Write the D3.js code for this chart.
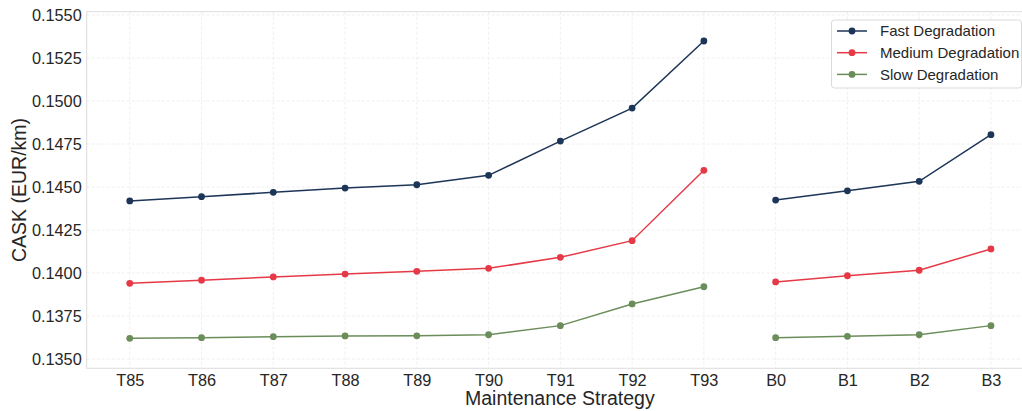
<!DOCTYPE html>
<html>
<head>
<meta charset="utf-8">
<script src="https://cdn.jsdelivr.net/npm/d3@7"></script>
<style>
  html, body { margin: 0; padding: 0; background: #ffffff; }
  svg { display: block; font-family: "Liberation Sans", Arial, sans-serif; }
</style>
</head>
<body>
<svg id="chart" width="1022" height="411"></svg>
<script>
// ---- data ----
const categories = ["T85", "T86", "T87", "T88", "T89", "T90", "T91", "T92", "T93", "B0", "B1", "B2", "B3"];
const groups = ["T", "T", "T", "T", "T", "T", "T", "T", "T", "B", "B", "B", "B"];
const fastValues   = [0.14419, 0.14444, 0.14469, 0.14494, 0.14513, 0.14568, 0.14767, 0.14959, 0.15349, 0.14424, 0.14478, 0.14533, 0.14804];
const mediumValues = [0.13940, 0.13958, 0.13977, 0.13994, 0.14010, 0.14027, 0.14091, 0.14188, 0.14597, 0.13948, 0.13984, 0.14016, 0.14140];
const slowValues   = [0.13620, 0.13624, 0.13630, 0.13634, 0.13635, 0.13641, 0.13694, 0.13820, 0.13920, 0.13624, 0.13632, 0.13641, 0.13694];
const seriesNames  = ["Fast Degradation", "Medium Degradation", "Slow Degradation"];
const seriesColors = ["#1d3557", "#e63946", "#6a8d5a"];
const yTickValues  = [0.1350, 0.1375, 0.1400, 0.1425, 0.1450, 0.1475, 0.1500, 0.1525, 0.1550];
const xTitle = "Maintenance Strategy";
const yTitle = "CASK (EUR/km)";

const series = [fastValues, mediumValues, slowValues].map((vals, i) => ({
  name: seriesNames[i], color: seriesColors[i],
  points: vals.map((v, j) => ({ cat: categories[j], idx: j, group: groups[j], value: v }))
}));

// ---- layout ----
const svg = d3.select("#chart");
const plot = { left: 86.7, right: 1034, top: 11.7, bottom: 368.3 };

const x = d3.scaleLinear().domain([-0.6, categories.length - 1 + 0.6]).range([plot.left, plot.right]);
const y = d3.scaleLinear().domain([0.134459, 0.155193]).range([plot.bottom, plot.top]);

const textColor = "#262626";

// grid
const grid = svg.append("g");
grid.selectAll("line.h").data(yTickValues).join("line")
  .attr("x1", plot.left).attr("x2", plot.right)
  .attr("y1", d => y(d)).attr("y2", d => y(d))
  .attr("stroke", "#ebebeb").attr("stroke-width", 0.8).attr("stroke-dasharray", "3,2");
grid.selectAll("line.v").data(categories).join("line")
  .attr("x1", (d, i) => x(i)).attr("x2", (d, i) => x(i))
  .attr("y1", plot.top).attr("y2", plot.bottom)
  .attr("stroke", "#ebebeb").attr("stroke-width", 0.8).attr("stroke-dasharray", "3,2");

// frame
svg.append("rect")
  .attr("x", plot.left).attr("y", plot.top)
  .attr("width", plot.right - plot.left).attr("height", plot.bottom - plot.top)
  .attr("fill", "none").attr("stroke", "#dcdcdc").attr("stroke-width", 1);

// axes
const yAxis = d3.axisLeft(y).tickValues(yTickValues).tickFormat(d3.format(".4f")).tickSize(0).tickPadding(5);
const gy = svg.append("g").attr("transform", `translate(${plot.left},0)`).call(yAxis);
gy.select(".domain").remove();
gy.selectAll("text").attr("fill", textColor).style("font-size", "16.3px");

const xAxis = d3.axisBottom(x).tickValues(d3.range(categories.length)).tickFormat(i => categories[i]).tickSize(0).tickPadding(6);
const gx = svg.append("g").attr("transform", `translate(0,${plot.bottom})`).call(xAxis);
gx.select(".domain").remove();
gx.selectAll("text").attr("fill", textColor).style("font-size", "16.3px");

// titles
svg.append("text")
  .attr("x", (plot.left + plot.right) / 2 - 0.5).attr("y", 405)
  .attr("text-anchor", "middle").attr("fill", textColor)
  .style("font-size", "19.5px").text(xTitle);
svg.append("text")
  .attr("transform", `translate(26,190) rotate(-90)`)
  .attr("text-anchor", "middle").attr("fill", textColor)
  .style("font-size", "19.5px").text(yTitle);

// lines (separate segments per group)
const line = d3.line().x(d => x(d.idx)).y(d => y(d.value));
const lines = svg.append("g");
series.forEach(s => {
  ["T", "B"].forEach(g => {
    const pts = s.points.filter(p => p.group === g);
    lines.append("path").datum(pts)
      .attr("d", line).attr("fill", "none")
      .attr("stroke", s.color).attr("stroke-width", 1.5);
  });
  lines.selectAll(null).data(s.points).join("circle")
    .attr("cx", d => x(d.idx)).attr("cy", d => y(d.value))
    .attr("r", 3.4).attr("fill", s.color);
});

// legend
const lg = svg.append("g");
lg.append("rect")
  .attr("x", 831.5).attr("y", 20).attr("width", 190).attr("height", 68)
  .attr("rx", 3).attr("fill", "#ffffff").attr("fill-opacity", 0.85)
  .attr("stroke", "#d0d0d0").attr("stroke-width", 0.8);
series.forEach((s, i) => {
  const yy = 31 + i * 21.7;
  lg.append("line").attr("x1", 837).attr("x2", 867).attr("y1", yy).attr("y2", yy)
    .attr("stroke", s.color).attr("stroke-width", 1.5);
  lg.append("circle").attr("cx", 852).attr("cy", yy).attr("r", 3.4).attr("fill", s.color);
  lg.append("text").attr("x", 880).attr("y", yy).attr("dy", "0.35em")
    .attr("fill", textColor).style("font-size", "15px").text(s.name);
});
</script>
</body>
</html>
